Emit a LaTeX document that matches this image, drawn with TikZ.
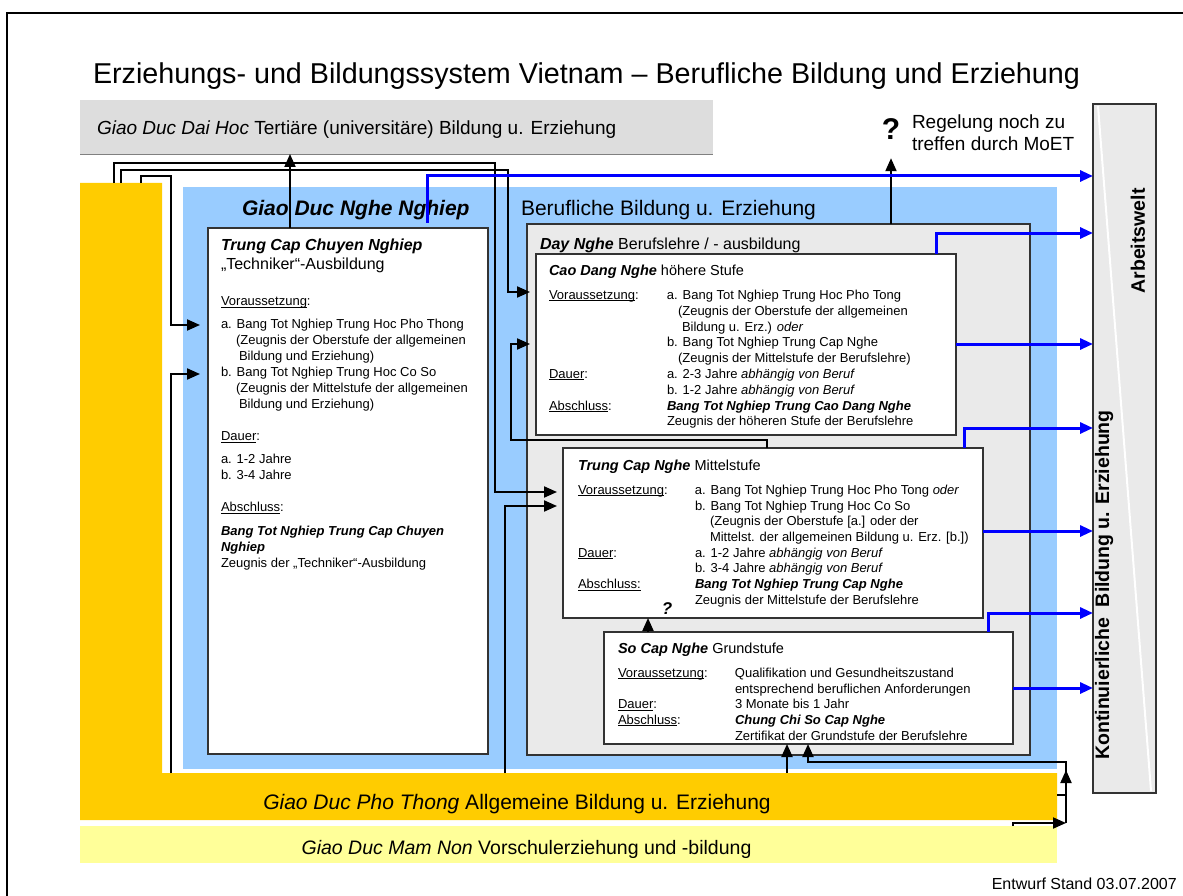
\documentclass[tikz,border=0pt]{standalone}
\usepackage{fontspec}
\setmainfont{Liberation Sans}
\usetikzlibrary{arrows.meta,calc}
\definecolor{gold}{HTML}{FFCC00}
\definecolor{paleyel}{HTML}{FFFF99}
\definecolor{skyb}{HTML}{99CCFF}
\definecolor{lgray}{HTML}{DDDDDD}
\definecolor{boxgray}{HTML}{EAEAEA}
\definecolor{edge}{HTML}{333333}
\definecolor{pureblue}{HTML}{0000FF}
\newcommand\ulw[1]{\setbox0\hbox{#1}\rlap{\rule[-1.6pt]{\wd0}{0.7pt}}#1}
\newcommand\fs[2]{\fontsize{#1}{#2}\selectfont}
\newcommand\bi[1]{\textbf{\textit{#1}}}
\begin{document}
\begin{tikzpicture}[x=1pt,y=-1pt,
  box/.style={draw=edge, line width=1.2pt, fill=white, inner sep=0pt, outer sep=0pt},
  area/.style={inner sep=0pt, outer sep=0pt},
  txt/.style={inner sep=0pt, outer sep=0pt, align=left, anchor=north west},
  lbl/.style={inner sep=0pt, outer sep=0pt, anchor=base west},
  conn/.style={line width=2pt, -{Triangle[length=13pt,width=11pt]}},
  bconn/.style={line width=3pt, pureblue, -{Triangle[length=13pt,width=11pt]}}]
\useasboundingbox (0,0) rectangle (1183,896);
% frame
\draw[line width=1.6pt] (7,905) -- (7,13) -- (1195,13);
% background areas
\node[area, fill=lgray, minimum width=633pt, minimum height=54pt] (daihoc) at (396.5,127) {};
\draw[gray, line width=0.8pt] (daihoc.south west) -- (daihoc.south east);
\fill[gold] (80,183) -- (162,183) -- (162,773) -- (1057,773) -- (1057,820) -- (80,820) -- cycle;
\node[area, fill=paleyel, minimum width=977pt, minimum height=37pt] (mamnon) at (568.5,844.5) {};
\node[area, fill=skyb, minimum width=874pt, minimum height=582pt] (gdnn) at (620,478) {};
% boxes
\node[box, minimum width=280pt, minimum height=526pt] (tccn) at (348,491) {};
\node[box, fill=boxgray, minimum width=503pt, minimum height=531pt] (dayn) at (778.5,489.5) {};
\node[box, minimum width=420pt, minimum height=181pt] (cdn) at (746,344.5) {};
\node[box, minimum width=420pt, minimum height=170pt] (tcn) at (773,533) {};
\node[box, minimum width=409pt, minimum height=112pt] (scn) at (808.5,688) {};
\node[box, fill=boxgray, minimum width=63pt, minimum height=689pt] (arb) at (1124.5,448.5) {};
\draw[white, line width=2pt] ($(arb.north west)+(5,2)$) -- ($(arb.south east)+(-5,-2)$);
% texts
\node[lbl, font=\fs{28.7}{32}] (title) at (93,84) {Erziehungs- und Bildungssystem Vietnam – Berufliche Bildung und Erziehung};
\node[lbl, font=\fs{19}{22}] (daihocT) at (97,135) {\textit{Giao Duc Dai Hoc} Tertiäre (universitäre) Bildung u. Erziehung};
\node[inner sep=0pt, anchor=base, font=\fs{30}{30}\bfseries] (qm) at (891,140) {?};
\node[txt, font=\fs{19}{22}] (regel) at (912,115) {Regelung noch zu\\treffen durch MoET};
\node[lbl, font=\fs{21}{24}\bfseries\itshape] (gdnnT) at (242,215) {Giao Duc Nghe Nghiep};
\node[lbl, font=\fs{21}{24}] (berufT) at (521,215) {Berufliche Bildung u. Erziehung};
\node[lbl, font=\fs{16}{19}] (daynT) at (540,249) {\bi{Day Nghe} Berufslehre / - ausbildung};
% TCCN
\node[txt, font=\fs{16}{19}] (tccnH) at (221,239) {\bi{Trung Cap Chuyen Nghiep}\\„Techniker“-Ausbildung};
\node[txt, font=\fs{13}{16}] (tccnB) at (221,297) {\ulw{Voraussetzung}:\\[7pt]
a. Bang Tot Nghiep Trung Hoc Pho Thong\\
\hspace*{15pt}(Zeugnis der Oberstufe der allgemeinen\\
\hspace*{18pt}Bildung und Erziehung)\\
b. Bang Tot Nghiep Trung Hoc Co So\\
\hspace*{15pt}(Zeugnis der Mittelstufe der allgemeinen\\
\hspace*{18pt}Bildung und Erziehung)\\[16pt]
\ulw{Dauer}:\\[7pt]
a. 1-2 Jahre\\
b. 3-4 Jahre\\[16pt]
\ulw{Abschluss}:\\[8pt]
\bi{Bang Tot Nghiep Trung Cap Chuyen}\\
\bi{Nghiep}\\
Zeugnis der „Techniker“-Ausbildung};
% Cao Dang Nghe
\node[lbl, font=\fs{14.5}{17}] (cdnH) at (549,275) {\bi{Cao Dang Nghe} höhere Stufe};
\node[txt, font=\fs{13}{15.8}] (cdnB) at (549,290) {\makebox[118pt][l]{\ulw{Voraussetzung}:}a. Bang Tot Nghiep Trung Hoc Pho Tong\\
\hspace*{129pt}(Zeugnis der Oberstufe der allgemeinen\\
\hspace*{133pt}Bildung u. Erz.) \textit{oder}\\
\hspace*{118pt}b. Bang Tot Nghiep Trung Cap Nghe\\
\hspace*{129pt}(Zeugnis der Mittelstufe der Berufslehre)\\
\makebox[118pt][l]{\ulw{Dauer}:}a. 2-3 Jahre \textit{abhängig von Beruf}\\
\hspace*{118pt}b. 1-2 Jahre \textit{abhängig von Beruf}\\
\makebox[118pt][l]{\ulw{Abschluss}:}\bi{Bang Tot Nghiep Trung Cao Dang Nghe}\\
\hspace*{118pt}Zeugnis der höheren Stufe der Berufslehre};
% Trung Cap Nghe
\node[lbl, font=\fs{14.5}{17}] (tcnH) at (578,470) {\bi{Trung Cap Nghe} Mittelstufe};
\node[txt, font=\fs{13}{15.7}] (tcnB) at (578,485) {\makebox[117pt][l]{\ulw{Voraussetzung}:}a. Bang Tot Nghiep Trung Hoc Pho Tong \textit{oder}\\
\hspace*{117pt}b. Bang Tot Nghiep Trung Hoc Co So\\
\hspace*{132pt}(Zeugnis der Oberstufe [a.] oder der\\
\hspace*{132pt}Mittelst. der allgemeinen Bildung u. Erz. [b.])\\
\makebox[117pt][l]{\ulw{Dauer}:}a. 1-2 Jahre \textit{abhängig von Beruf}\\
\hspace*{117pt}b. 3-4 Jahre \textit{abhängig von Beruf}\\
\makebox[117pt][l]{\ulw{Abschluss:}}\bi{Bang Tot Nghiep Trung Cap Nghe}\\
\hspace*{117pt}Zeugnis der Mittelstufe der Berufslehre};
% So Cap Nghe
\node[lbl, font=\fs{14.5}{17}] (scnH) at (618,653) {\bi{So Cap Nghe} Grundstufe};
\node[txt, font=\fs{13}{15.7}] (scnB) at (618,668) {\makebox[117pt][l]{\ulw{Voraussetzung}:}Qualifikation und Gesundheitszustand\\
\hspace*{117pt}entsprechend beruflichen Anforderungen\\
\makebox[117pt][l]{\ulw{Dauer}:}3 Monate bis 1 Jahr\\
\makebox[117pt][l]{\ulw{Abschluss}:}\bi{Chung Chi So Cap Nghe}\\
\hspace*{117pt}Zertifikat der Grundstufe der Berufslehre};
\node[inner sep=0pt, font=\fs{17}{17}\bfseries\itshape] (qm2) at (667,609) {?};
% bottom texts
\node[inner sep=0pt, anchor=base, font=\fs{21}{24}] (photT) at (517,809) {\textit{Giao Duc Pho Thong} Allgemeine Bildung u. Erziehung};
\node[inner sep=0pt, anchor=base, font=\fs{19.5}{22}] (mamT) at (526.5,854) {\textit{Giao Duc Mam Non} Vorschulerziehung und -bildung};
\node[inner sep=0pt, anchor=base east, font=\fs{16}{18}] (entw) at (1177,889) {Entwurf Stand 03.07.2007};
\node[inner sep=0pt, rotate=90, font=\fs{19.5}{22}\bfseries] (arbT) at (1138,241) {Arbeitswelt};
\node[inner sep=0pt, rotate=90, font=\fs{19.5}{22}\bfseries] (kontT) at (1104,585) {Kontinuierliche\ \ Bildung u. Erziehung};
% named free ends
\coordinate (y1) at (114,183);
\coordinate (y2) at (121,183);
\coordinate (y3) at (141,183);
\coordinate (y4) at (171,773);
\coordinate (y5) at (505,773);
\coordinate (y6) at (787,773);
\coordinate (mn) at (1013,826);
\coordinate (ptR) at (1057,795);
\coordinate (gdnS) at (427,223);
% black connectors
\coordinate (tcUp) at ($(tccn.north west)+(82,0)$);
\draw[conn] (tcUp) -- (tcUp |- daihoc.south);
\coordinate (dnUp) at ($(dayn.north west)+(364,0)$);
\draw[conn, shorten >=18pt] (dnUp) -- (dnUp |- qm.south);
\draw[conn, shorten >=6pt] (y1) |- (495,163) |- (tcn.west |- 0,492);
\draw[conn, shorten >=6pt] (y2) |- (508,170) |- (cdn.west |- 0,292);
\draw[conn, shorten >=8pt] (y3) |- (171,176) |- (tccn.west |- 0,325);
\draw[conn, shorten >=8pt] (y4) |- (tccn.west |- 0,374);
\draw[conn, shorten >=6pt] (y5) |- (tcn.west |- 0,506);
\coordinate (tcnTop) at ($(tcn.north west)+(204,0)$);
\draw[conn, shorten >=6pt] (tcnTop) |- (511,440) |- (cdn.west |- 0,344);
\coordinate (scUp) at ($(scn.north west)+(44,0)$);
\draw[conn] (scUp) -- (scUp |- tcn.south);
\draw[conn] (y6) -- (y6 |- scn.south);
\coordinate (scIn) at ($(scn.south west)+(204,0)$);
\draw[conn] (mn) |- (1066,823);
\draw[line width=2pt] (ptR) -- (1066,795);
\draw[conn] (1066,823) -- (1066,762) -| (scIn);
\draw[conn] (1066,795) -- (1066,770);
% blue connectors
\draw[bconn] (gdnS) |- (arb.west |- 0,176);
\coordinate (cdTop) at ($(cdn.north west)+(400,0)$);
\draw[bconn] (cdTop) |- (arb.west |- 0,233);
\draw[bconn] (cdn.east |- 0,344) -- (arb.west |- 0,344);
\coordinate (tcTop2) at ($(tcn.north west)+(401,0)$);
\draw[bconn] (tcTop2) |- (arb.west |- 0,428);
\draw[bconn] (tcn.east |- 0,531) -- (arb.west |- 0,531);
\coordinate (scTop) at ($(scn.north west)+(384,0)$);
\draw[bconn] (scTop) |- (arb.west |- 0,613);
\draw[bconn] (scn.east |- 0,688) -- (arb.west |- 0,688);
\end{tikzpicture}
\end{document}
